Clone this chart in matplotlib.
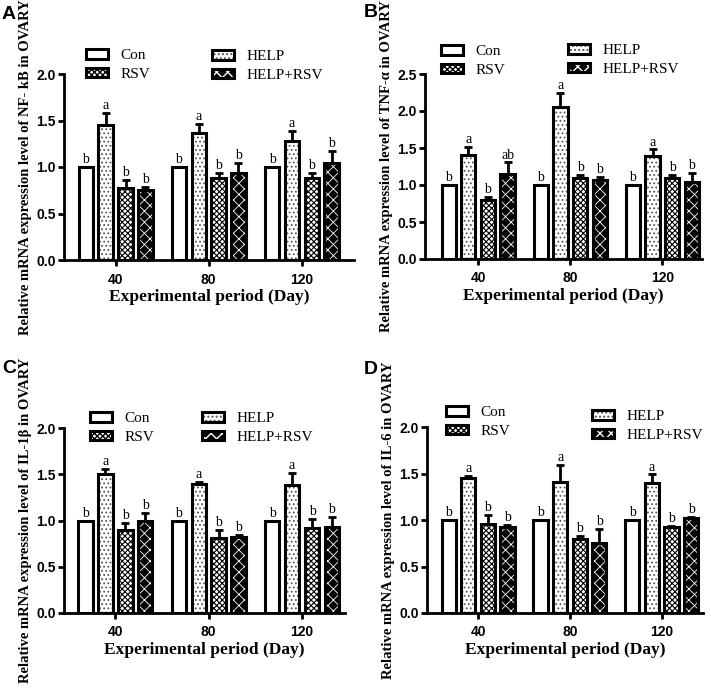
import matplotlib
matplotlib.use('Agg')
import matplotlib.pyplot as plt
import numpy as np
from matplotlib.legend_handler import HandlerTuple

# data
groups = ['40', '80', '120']
series = ['Con', 'HELP', 'RSV', 'HELP+RSV']

nfkb_mean = [[1.0, 1.0, 1.0], [1.45, 1.37, 1.28], [0.77, 0.885, 0.885], [0.75, 0.94, 1.04]]
nfkb_err = [[0, 0, 0], [0.13, 0.09, 0.11], [0.09, 0.05, 0.05], [0.04, 0.10, 0.13]]
nfkb_lab = [['b', 'b', 'b'], ['a', 'a', 'a'], ['b', 'b', 'b'], ['b', 'b', 'b']]

tnf_mean = [[1.0, 1.0, 1.0], [1.41, 2.06, 1.39], [0.80, 1.10, 1.09], [1.155, 1.07, 1.04]]
tnf_err = [[0, 0, 0], [0.10, 0.18, 0.09], [0.04, 0.03, 0.04], [0.15, 0.04, 0.12]]
tnf_lab = [['b', 'b', 'b'], ['a', 'a', 'a'], ['b', 'b', 'b'], ['ab', 'b', 'b']]

il1_mean = [[1.0, 1.0, 1.0], [1.50, 1.39, 1.385], [0.90, 0.81, 0.92], [0.995, 0.825, 0.925]]
il1_err = [[0, 0, 0], [0.06, 0.03, 0.13], [0.07, 0.09, 0.10], [0.09, 0.02, 0.11]]
il1_lab = [['b', 'b', 'b'], ['a', 'a', 'a'], ['b', 'b', 'b'], ['b', 'b', 'b']]

il6_mean = [[1.0, 1.0, 1.0], [1.45, 1.41, 1.40], [0.96, 0.80, 0.92], [0.93, 0.75, 1.025]]
il6_err = [[0, 0, 0], [0.02, 0.18, 0.09], [0.09, 0.03, 0.02], [0.02, 0.15, 0.01]]
il6_lab = [['b', 'b', 'b'], ['a', 'a', 'a'], ['b', 'b', 'b'], ['b', 'b', 'b']]

W, H = 711, 688
fig = plt.figure(figsize=(W / 100, H / 100), dpi=100)

serif = 'Liberation Serif'
sans = 'Liberation Sans'

# (face, hatch, hatch colour, hatch width)
styles = [('white', '', 'black', 0.8),
          ('white', '....', '#555555', 0.8),
          ('white', 'xxxxxx', 'black', 0.8),
          ('black', 'xxx', 'white', 0.6)]

def px_axes(l, r, t, b):
    return fig.add_axes([l / W, 1 - b / H, (r - l) / W, (b - t) / H])

def panel(ax, means, errs, labs, ymax, ystep, xlim, ylabel, leg1, leg2):
    x = np.arange(len(groups))
    offs = (np.arange(4) - 1.5) * 0.213
    bw = 0.155
    handles = []
    for i in range(4):
        face, hatch, hc, hw = styles[i]
        with plt.rc_context({'hatch.color': hc, 'hatch.linewidth': hw}):
            fill = ax.bar(x + offs[i], means[i], bw, color=face, hatch=hatch,
                          edgecolor=None, linewidth=0, zorder=2)
        outline = ax.bar(x + offs[i], means[i], bw, fill=False, edgecolor='black',
                         linewidth=2.2, zorder=3)
        if i > 0:
            ax.errorbar(x + offs[i], means[i], yerr=[np.zeros(3), errs[i]], fmt='none',
                        ecolor='black', elinewidth=2, capsize=3, capthick=2, zorder=1)
        for j in range(3):
            ax.text(x[j] + offs[i], means[i][j] + errs[i][j] + ymax * 0.005, labs[i][j],
                    ha='center', va='bottom', family=serif, fontsize=10)
        handles.append((fill[0], outline[0]))

    ax.set_xlim(*xlim)
    ax.set_ylim(0, ymax)
    ax.set_yticks(np.arange(0, ymax + 0.01, ystep))
    ax.set_yticklabels(['%.1f' % v for v in np.arange(0, ymax + 0.01, ystep)])
    ax.set_xticks(x)
    ax.set_xticklabels(groups)
    for lab in ax.get_xticklabels() + ax.get_yticklabels():
        lab.set_family(sans)
        lab.set_fontweight('bold')
        lab.set_fontsize(10)
    ax.tick_params(width=2, length=4)
    ax.tick_params(axis='x', pad=5)
    ax.tick_params(axis='y', pad=2)
    for s in ['top', 'right']:
        ax.spines[s].set_visible(False)
    for s in ['left', 'bottom']:
        ax.spines[s].set_linewidth(2)
    ax.set_xlabel('Experimental period (Day)', family=serif, fontweight='bold',
                  fontsize=12.5, labelpad=2)
    ax.set_ylabel(ylabel, family=serif, fontweight='bold', fontsize=10.5, labelpad=3)

    kw = dict(frameon=False, borderpad=0, borderaxespad=0, handlelength=1.45,
              handleheight=0.6, labelspacing=0.35, handletextpad=0.8,
              loc='upper left', bbox_transform=fig.transFigure,
              handler_map={tuple: HandlerTuple(ndivide=1, pad=0)},
              prop={'family': serif, 'size': 11})
    l1 = ax.legend([handles[0], handles[2]], [series[0], series[2]],
                   bbox_to_anchor=(leg1[0] / W, 1 - leg1[1] / H), **kw)
    ax.add_artist(l1)
    ax.legend([handles[1], handles[3]], [series[1], series[3]],
              bbox_to_anchor=(leg2[0] / W, 1 - leg2[1] / H), **kw)

axA = px_axes(64, 354, 74, 260)
panel(axA, nfkb_mean, nfkb_err, nfkb_lab, 2.0, 0.5, (-0.554, 2.56),
      'Relative mRNA expression level of NF- kB in OVARY', (86, 49), (212, 50))
axB = px_axes(425, 702, 74, 259)
panel(axB, tnf_mean, tnf_err, tnf_lab, 2.5, 0.5, (-0.577, 2.43),
      'Relative mRNA expression level of TNF-\u03b1 in OVARY', (441, 45), (568, 44))
axC = px_axes(64, 345, 428, 613)
panel(axC, il1_mean, il1_err, il1_lab, 2.0, 0.5, (-0.55, 2.46),
      'Relative mRNA expression level of IL-1\u03b2 in OVARY', (90, 412), (202, 412))
axD = px_axes(427, 703, 427, 613)
panel(axD, il6_mean, il6_err, il6_lab, 2.0, 0.5, (-0.557, 2.45),
      'Relative mRNA expression level of IL-6 in OVARY', (446, 406), (592, 410))

for lbl, (px, py) in zip('ABCD', [(2, 6), (364, 4), (2, 360), (364, 361)]):
    fig.text(px / W, 1 - py / H, lbl, family=sans, fontweight='bold', fontsize=14,
             ha='left', va='top')

fig.savefig('out.png', dpi=100)
